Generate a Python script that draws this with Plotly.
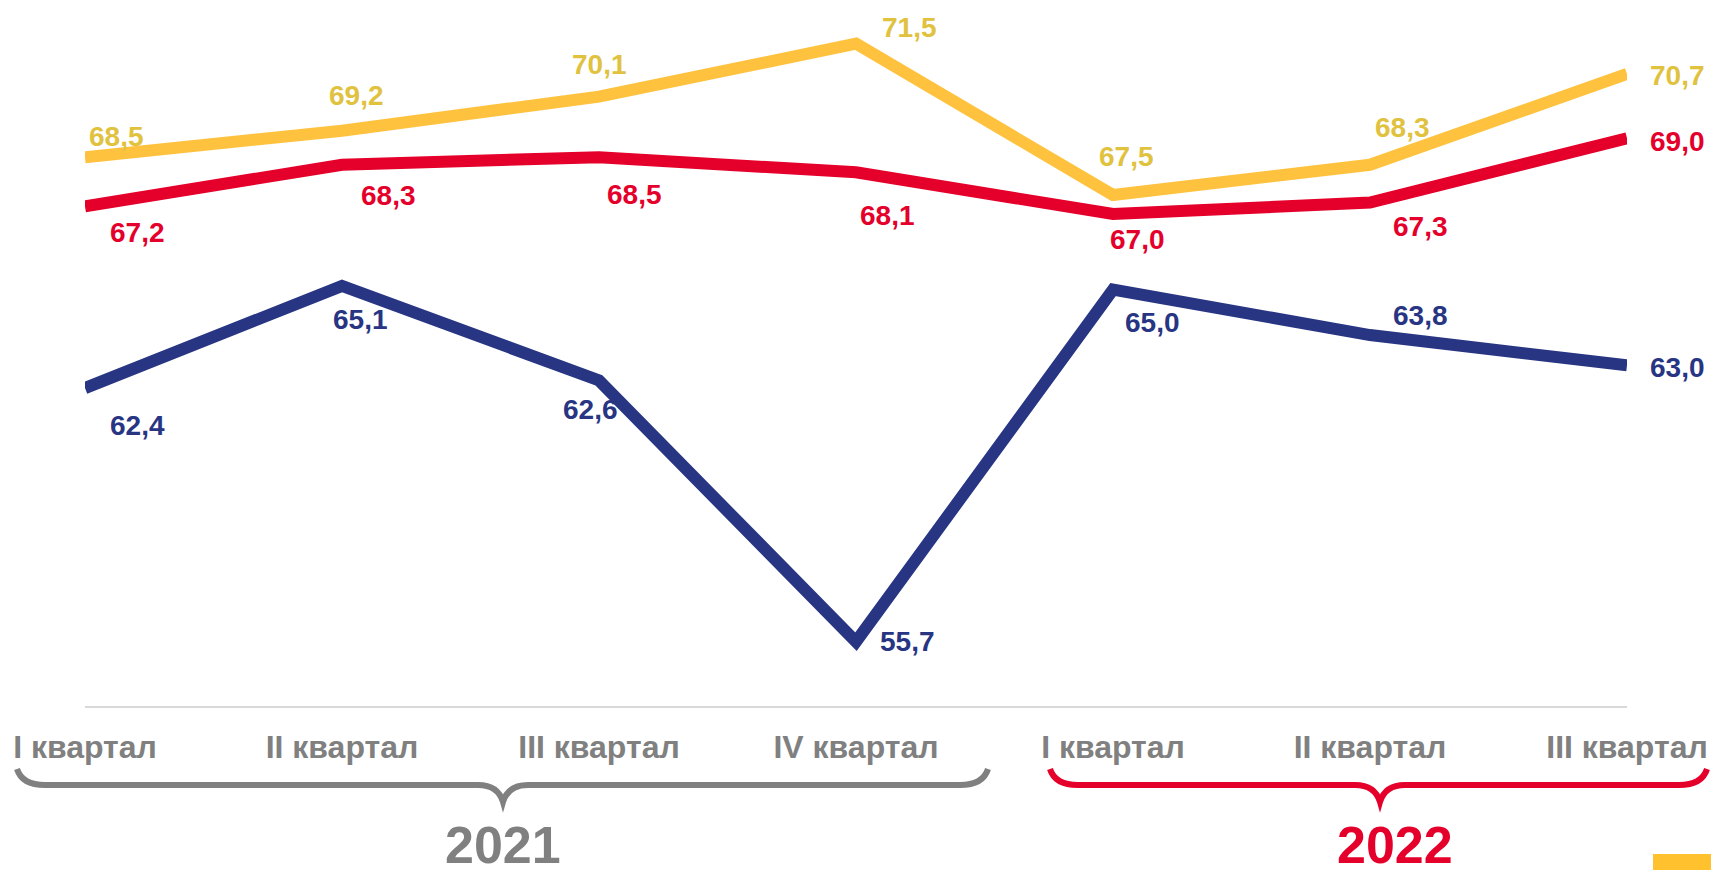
import plotly.graph_objects as go

# ---- data ----
quarters = ["I квартал", "II квартал", "III квартал", "IV квартал",
            "I квартал", "II квартал", "III квартал"]
series_yellow = [68.5, 69.2, 70.1, 71.5, 67.5, 68.3, 70.7]
series_red = [67.2, 68.3, 68.5, 68.1, 67.0, 67.3, 69.0]
series_blue = [62.4, 65.1, 62.6, 55.7, 65.0, 63.8, 63.0]
years = ["2021", "2022"]

# ---- styling / layout helpers ----
W, H = 1711, 870
ML, MR, MT, MB = 85, 84, 0, 164
PW, PH = W - ML - MR, H - MT - MB

def px(x):
    return (x - ML) / PW

def py(y):
    return (H - MB - y) / PH

FONT = "Liberation Sans, Arial, sans-serif"
YEL_LINE, YEL_TEXT = "#FFC23F", "#E0C23F"
RED = "#E4002B"
BLUE = "#283583"
GREY = "#808080"

# label offsets in pixels (dx, dy downwards)
off_yellow = [(31, -21), (14, -35), (0, -32), (53, -16), (13, -39), (32, -37), (50, 2)]
off_red = [(52, 26), (46, 31), (35, 37), (31, 43), (24, 26), (50, 24), (50, 3)]
off_blue = [(52, 37), (18, 34), (-9, 29), (51, 0), (39, 33), (50, -20), (50, 2)]

xs = list(range(len(quarters)))

fig = go.Figure()
for vals, col in [(series_yellow, YEL_LINE), (series_red, RED), (series_blue, BLUE)]:
    fig.add_trace(go.Scatter(x=xs, y=vals, mode="lines",
                             line=dict(color=col, width=12),
                             hoverinfo="skip", showlegend=False))

annotations = []
for vals, offs, col in [(series_yellow, off_yellow, YEL_TEXT),
                        (series_red, off_red, RED),
                        (series_blue, off_blue, BLUE)]:
    for i, (v, (dx, dy)) in enumerate(zip(vals, offs)):
        annotations.append(dict(
            x=i, y=v, xref="x", yref="y", text=f"{v:.1f}".replace(".", ","),
            showarrow=False, xshift=dx, yshift=-dy,
            xanchor="center", yanchor="middle",
            font=dict(family=FONT, size=28, color=col, weight="bold")))

# years
annotations.append(dict(x=px(503), y=py(845), xref="paper", yref="paper",
                        text=years[0], showarrow=False, xanchor="center", yanchor="middle",
                        font=dict(family=FONT, size=52, color=GREY, weight="bold")))
annotations.append(dict(x=px(1395), y=py(845), xref="paper", yref="paper",
                        text=years[1], showarrow=False, xanchor="center", yanchor="middle",
                        font=dict(family=FONT, size=52, color=RED, weight="bold")))

def brace(x0, x1, xt, ytop=769, yh=785, ytip=802):
    pts = [
        f"M {px(x0)},{py(ytop)}",
        f"Q {px(x0 + 5)},{py(yh)} {px(x0 + 28)},{py(yh)}",
        f"L {px(xt - 25)},{py(yh)}",
        f"Q {px(xt - 5)},{py(yh)} {px(xt)},{py(ytip)}",
        f"Q {px(xt + 5)},{py(yh)} {px(xt + 25)},{py(yh)}",
        f"L {px(x1 - 28)},{py(yh)}",
        f"Q {px(x1 - 5)},{py(yh)} {px(x1)},{py(ytop)}",
    ]
    return " ".join(pts)

shapes = [
    dict(type="path", xref="paper", yref="paper", path=brace(17, 988, 503),
         line=dict(color=GREY, width=6)),
    dict(type="path", xref="paper", yref="paper", path=brace(1050, 1707, 1380),
         line=dict(color=RED, width=6)),
    dict(type="rect", xref="paper", yref="paper",
         x0=px(1653), x1=px(1711), y0=py(870), y1=py(854),
         fillcolor="#FFC22E", line=dict(width=0)),
]

fig.update_layout(
    width=W, height=H,
    margin=dict(l=ML, r=MR, t=MT, b=MB, pad=0),
    paper_bgcolor="white", plot_bgcolor="white",
    showlegend=False,
    annotations=annotations,
    shapes=shapes,
    xaxis=dict(range=[0, len(quarters) - 1], tickvals=xs, ticktext=quarters,
               showgrid=False, zeroline=False, showline=True,
               linecolor="#D9D9D9", linewidth=2, ticks="",
               ticklabelstandoff=12,
               tickfont=dict(family=FONT, size=32, color=GREY, weight="bold")),
    yaxis=dict(range=[54, 54 + PH / 37.85], visible=False,
               showgrid=False, zeroline=False),
)

fig.write_html("out.html", config={"displayModeBar": False},
               post_script="document.body.style.margin='0';")
